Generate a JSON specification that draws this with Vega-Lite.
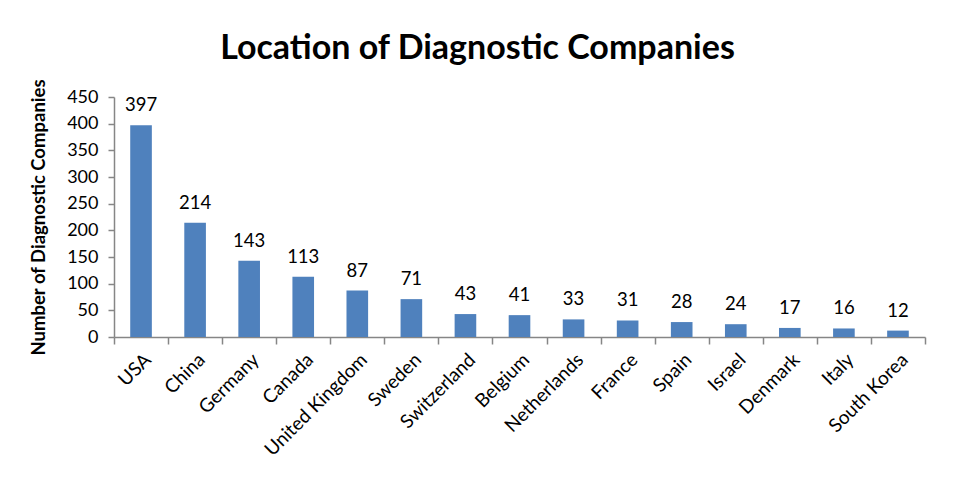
{
  "$schema": "https://vega.github.io/schema/vega-lite/v6.json",
  "autosize": "none",
  "width": 811,
  "height": 240,
  "padding": {"left": 114, "top": 97, "right": 29, "bottom": 144},
  "background": "white",
  "title": {
    "text": "Location of Diagnostic Companies",
    "font": "Lato",
    "fontSize": 34,
    "fontWeight": "bold",
    "color": "black",
    "anchor": "middle",
    "dx": -42,
    "offset": 13
  },
  "data": {
    "values": [
      {"country": "USA", "count": 397},
      {"country": "China", "count": 214},
      {"country": "Germany", "count": 143},
      {"country": "Canada", "count": 113},
      {"country": "United Kingdom", "count": 87},
      {"country": "Sweden", "count": 71},
      {"country": "Switzerland", "count": 43},
      {"country": "Belgium", "count": 41},
      {"country": "Netherlands", "count": 33},
      {"country": "France", "count": 31},
      {"country": "Spain", "count": 28},
      {"country": "Israel", "count": 24},
      {"country": "Denmark", "count": 17},
      {"country": "Italy", "count": 16},
      {"country": "South Korea", "count": 12}
    ]
  },
  "encoding": {
    "x": {
      "field": "country",
      "type": "nominal",
      "sort": null,
      "scale": {"paddingInner": 0, "paddingOuter": 0},
      "axis": {
        "title": null,
        "labelAngle": -45,
        "labelFont": "Lato",
        "labelFontSize": 19,
        "labelColor": "black",
        "labelPadding": 6,
        "ticks": true,
        "tickBand": "extent",
        "tickSize": 7,
        "tickWidth": 1.5,
        "tickColor": "#868686",
        "tickOpacity": 1,
        "domainColor": "#868686",
        "domainWidth": 1.5
      }
    },
    "y": {
      "field": "count",
      "type": "quantitative",
      "scale": {"domain": [0, 450]},
      "axis": {
        "title": "Number of Diagnostic Companies",
        "titleFont": "Lato",
        "titleFontSize": 18.5,
        "titleFontWeight": "bold",
        "titleColor": "black",
        "titlePadding": 18,
        "values": [0, 50, 100, 150, 200, 250, 300, 350, 400, 450],
        "grid": false,
        "labelFont": "Lato",
        "labelFontSize": 18,
        "labelColor": "black",
        "labelPadding": 10,
        "ticks": true,
        "tickSize": 6,
        "tickWidth": 1.5,
        "tickColor": "#868686",
        "domainColor": "#868686",
        "domainWidth": 1.5
      }
    }
  },
  "layer": [
    {"mark": {"type": "bar", "color": "#4F81BD", "width": {"band": 0.4}}},
    {
      "mark": {"type": "text", "baseline": "bottom", "dy": -10, "font": "Lato", "fontSize": 18.5, "color": "black"},
      "encoding": {"text": {"field": "count", "type": "quantitative"}}
    }
  ],
  "config": {"view": {"stroke": null}, "axisX": {"ticks": true}}
}
